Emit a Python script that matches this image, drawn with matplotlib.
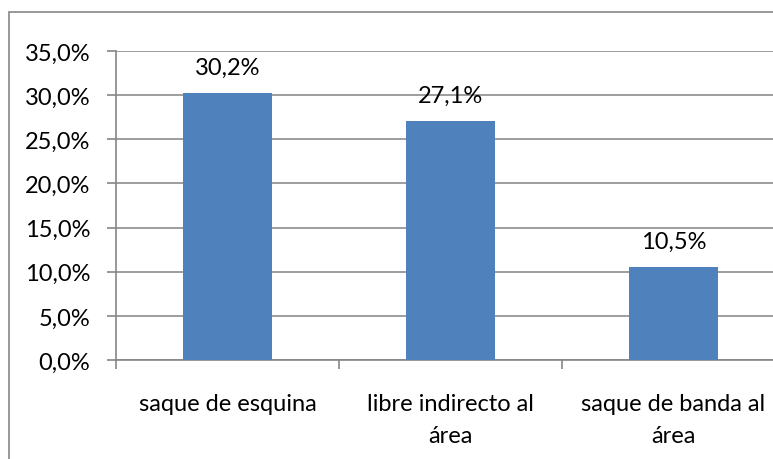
import matplotlib.pyplot as plt
from matplotlib.patches import Rectangle

categories = ["saque de esquina", "libre indirecto al\nárea", "saque de banda al\nárea"]
values = [30.2, 27.1, 10.5]
value_labels = ["30,2%", "27,1%", "10,5%"]
yticks = [0, 5, 10, 15, 20, 25, 30, 35]
ytick_labels = ["0,0%", "5,0%", "10,0%", "15,0%", "20,0%", "25,0%", "30,0%", "35,0%"]

plt.rcParams['font.family'] = ['Lato', 'DejaVu Sans']

W, H = 773, 460
FS = 17
fig = plt.figure(figsize=(W / 100, H / 100), dpi=100)

# outer chart border (runs off the right and bottom edge)
fig.patches.append(Rectangle((9 / W, -0.1), 2, 1 - 13 / H + 0.1, transform=fig.transFigure,
                             fill=False, edgecolor='#868686', linewidth=1.2))

ax = fig.add_axes([116 / W, 1 - 361 / H, 1 - 116 / W, (361 - 52) / H])
x = list(range(len(categories)))
ax.bar(x, values, width=0.4, color='#4F81BD', zorder=3)

for xi, v, lab in zip(x, values, value_labels):
    ax.annotate(lab, (xi, v), xytext=(0, 11), textcoords='offset points',
                ha='center', va='bottom', fontsize=FS)

ax.set_yticks(yticks)
ax.set_yticklabels(ytick_labels, fontsize=FS)
ax.yaxis.grid(True, color='#8c8c8c', linewidth=1.2, zorder=0)
ax.set_axisbelow(True)

ax.set_xticks([-0.5, 0.5, 1.5, 2.5])
ax.set_xticklabels([])
ax.set_xticks(x, minor=True)
ax.set_xticklabels(categories, minor=True, fontsize=FS, linespacing=1.6)
for t in ax.get_xticklabels(minor=True):
    t.set_multialignment('center')
ax.tick_params(axis='x', which='minor', length=0, pad=24)
ax.tick_params(axis='x', which='major', length=6.5, color='#868686', width=1.2)
ax.tick_params(axis='y', length=6.5, color='#868686', width=1.2, pad=12)

# limits after the ticks, so the 2.5 tick does not widen the view
ax.set_ylim(0, 35)
ax.set_xlim(-0.5, (W - 116) / 223 - 0.5)

for s in ['top', 'right']:
    ax.spines[s].set_visible(False)
for s in ['left', 'bottom']:
    ax.spines[s].set_color('#868686')
    ax.spines[s].set_linewidth(1.2)

fig.savefig('out.png', dpi=100)
